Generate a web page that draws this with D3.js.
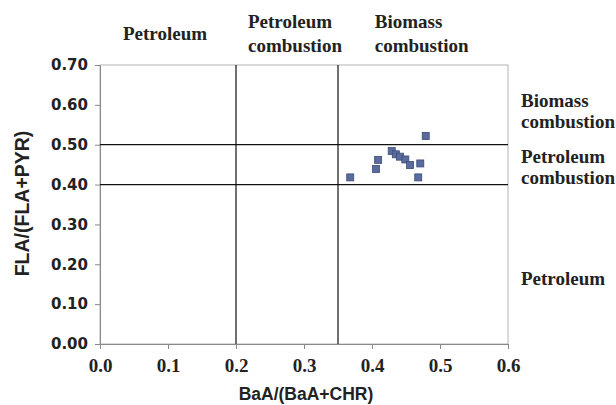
<!DOCTYPE html>
<html>
<head>
<meta charset="utf-8">
<script src="https://cdn.jsdelivr.net/npm/d3@7"></script>
<style>
  body { margin: 0; background: #fff; }
  svg { display: block; }
</style>
</head>
<body>
<div class="canvas"></div>
<script>
// data
const baaRatio = [0.479, 0.429, 0.435, 0.441, 0.449, 0.456, 0.471, 0.409, 0.406, 0.368, 0.468]
const flaRatio = [0.522, 0.484, 0.476, 0.470, 0.463, 0.449, 0.453, 0.462, 0.439, 0.418, 0.418]
const xTicks = [0, 0.1, 0.2, 0.3, 0.4, 0.5, 0.6]
const yTicks = [0, 0.1, 0.2, 0.3, 0.4, 0.5, 0.6, 0.7]
const xCuts = [0.2, 0.35]
const yCuts = [0.4, 0.5]
const topLabels = [
    { x: 0.1, lines: ["Petroleum"] },
    { x: 0.275, lines: ["Petroleum", "combustion"] },
    { x: 0.404, lines: ["Biomass", "combustion"] }
]
const rightLabels = [
    { y: 0.583, lines: ["Biomass", "combustion"] },
    { y: 0.443, lines: ["Petroleum", "combustion"] },
    { y: 0.163, lines: ["Petroleum"] }
]

const W = 616, H = 405
const margin = { top: 65, right: 108, bottom: 61, left: 100 }
const w = W - margin.left - margin.right
const h = H - margin.top - margin.bottom

const svg = d3.select(".canvas")
    .append("svg")
    .attr("width", W)
    .attr("height", H)

const graph = svg.append("g")
    .attr("transform", `translate(${margin.left}, ${margin.top})`)

const x = d3.scaleLinear().domain([0, 0.6]).range([0, w])
const y = d3.scaleLinear().domain([0, 0.7]).range([h, 0])

const serif = "'Liberation Serif', 'Times New Roman', serif"
const sans = "'DejaVu Sans', Arial, sans-serif"

// frame
graph.append("rect")
    .attr("width", w)
    .attr("height", h)
    .attr("fill", "none")
    .attr("stroke", "#b4b4b4")
    .attr("stroke-width", 1)

// axes
const yAxis = graph.append("g")
    .call(d3.axisLeft(y).tickValues(yTicks).tickFormat(d3.format(".2f")).tickSize(5).tickPadding(7))
yAxis.select(".domain").attr("stroke", "#8a8a8a")
yAxis.selectAll(".tick line").attr("stroke", "#8a8a8a")
yAxis.selectAll("text")
    .attr("font-family", sans)
    .attr("font-weight", "bold")
    .attr("font-size", 15)
    .attr("fill", "#222")

const xAxis = graph.append("g")
    .attr("transform", `translate(0, ${h})`)
    .call(d3.axisBottom(x).tickValues(xTicks).tickFormat(d3.format(".1f")).tickSize(5).tickPadding(10))
xAxis.select(".domain").attr("stroke", "#8a8a8a")
xAxis.selectAll(".tick line").attr("stroke", "#8a8a8a")
xAxis.selectAll("text")
    .attr("font-family", serif)
    .attr("font-weight", "bold")
    .attr("font-size", 19)
    .attr("fill", "#222")

// divider lines
graph.selectAll(".vcut")
    .data(xCuts)
    .enter()
    .append("line")
    .attr("class", "vcut")
    .attr("x1", d => x(d)).attr("x2", d => x(d))
    .attr("y1", 0).attr("y2", h)
    .attr("stroke", "#111")
    .attr("stroke-width", 1.2)

graph.selectAll(".hcut")
    .data(yCuts)
    .enter()
    .append("line")
    .attr("class", "hcut")
    .attr("x1", 0).attr("x2", w)
    .attr("y1", d => y(d)).attr("y2", d => y(d))
    .attr("stroke", "#111")
    .attr("stroke-width", 1.2)

// points
const pts = baaRatio.map((v, i) => ({ x: v, y: flaRatio[i] }))
graph.selectAll(".pt")
    .data(pts)
    .enter()
    .append("rect")
    .attr("class", "pt")
    .attr("x", d => x(d.x) - 3.5)
    .attr("y", d => y(d.y) - 3.5)
    .attr("width", 7)
    .attr("height", 7)
    .attr("fill", "#5a6b9e")
    .attr("stroke", "#3e4a78")
    .attr("stroke-width", 0.8)

// region labels along the top
topLabels.forEach(lab => {
    const t = svg.append("text")
        .attr("font-family", serif)
        .attr("font-weight", "bold")
        .attr("font-size", 19)
        .attr("fill", "#222")
    if (lab.lines.length == 1) {
        t.append("tspan")
            .attr("x", margin.left + x(lab.x) - 45)
            .attr("y", 40)
            .text(lab.lines[0])
    } else {
        lab.lines.forEach((s, i) => {
            t.append("tspan")
                .attr("x", margin.left + x(lab.x) - (lab.x < 0.3 ? 39 : 0))
                .attr("y", 28 + i * 24)
                .text(s)
        })
    }
})

// region labels on the right
rightLabels.forEach(lab => {
    const t = svg.append("text")
        .attr("font-family", serif)
        .attr("font-weight", "bold")
        .attr("font-size", 19)
        .attr("fill", "#222")
    const n = lab.lines.length
    lab.lines.forEach((s, i) => {
        t.append("tspan")
            .attr("x", margin.left + w + 13)
            .attr("y", margin.top + y(lab.y) + 6 + (i - (n - 1) / 2) * 21)
            .text(s)
    })
})

// axis titles
svg.append("text")
    .attr("x", margin.left + w / 2 + 2)
    .attr("y", 400)
    .attr("text-anchor", "middle")
    .attr("font-family", "'Liberation Sans', Arial, sans-serif")
    .attr("font-weight", "bold")
    .attr("font-size", 17.5)
    .attr("fill", "#222")
    .text("BaA/(BaA+CHR)")

svg.append("text")
    .attr("transform", `translate(29, ${margin.top + h / 2 - 1}) rotate(-90)`)
    .attr("text-anchor", "middle")
    .attr("font-family", "'Liberation Sans', Arial, sans-serif")
    .attr("font-weight", "bold")
    .attr("font-size", 19.5)
    .attr("fill", "#222")
    .text("FLA/(FLA+PYR)")
</script>
</body>
</html>
